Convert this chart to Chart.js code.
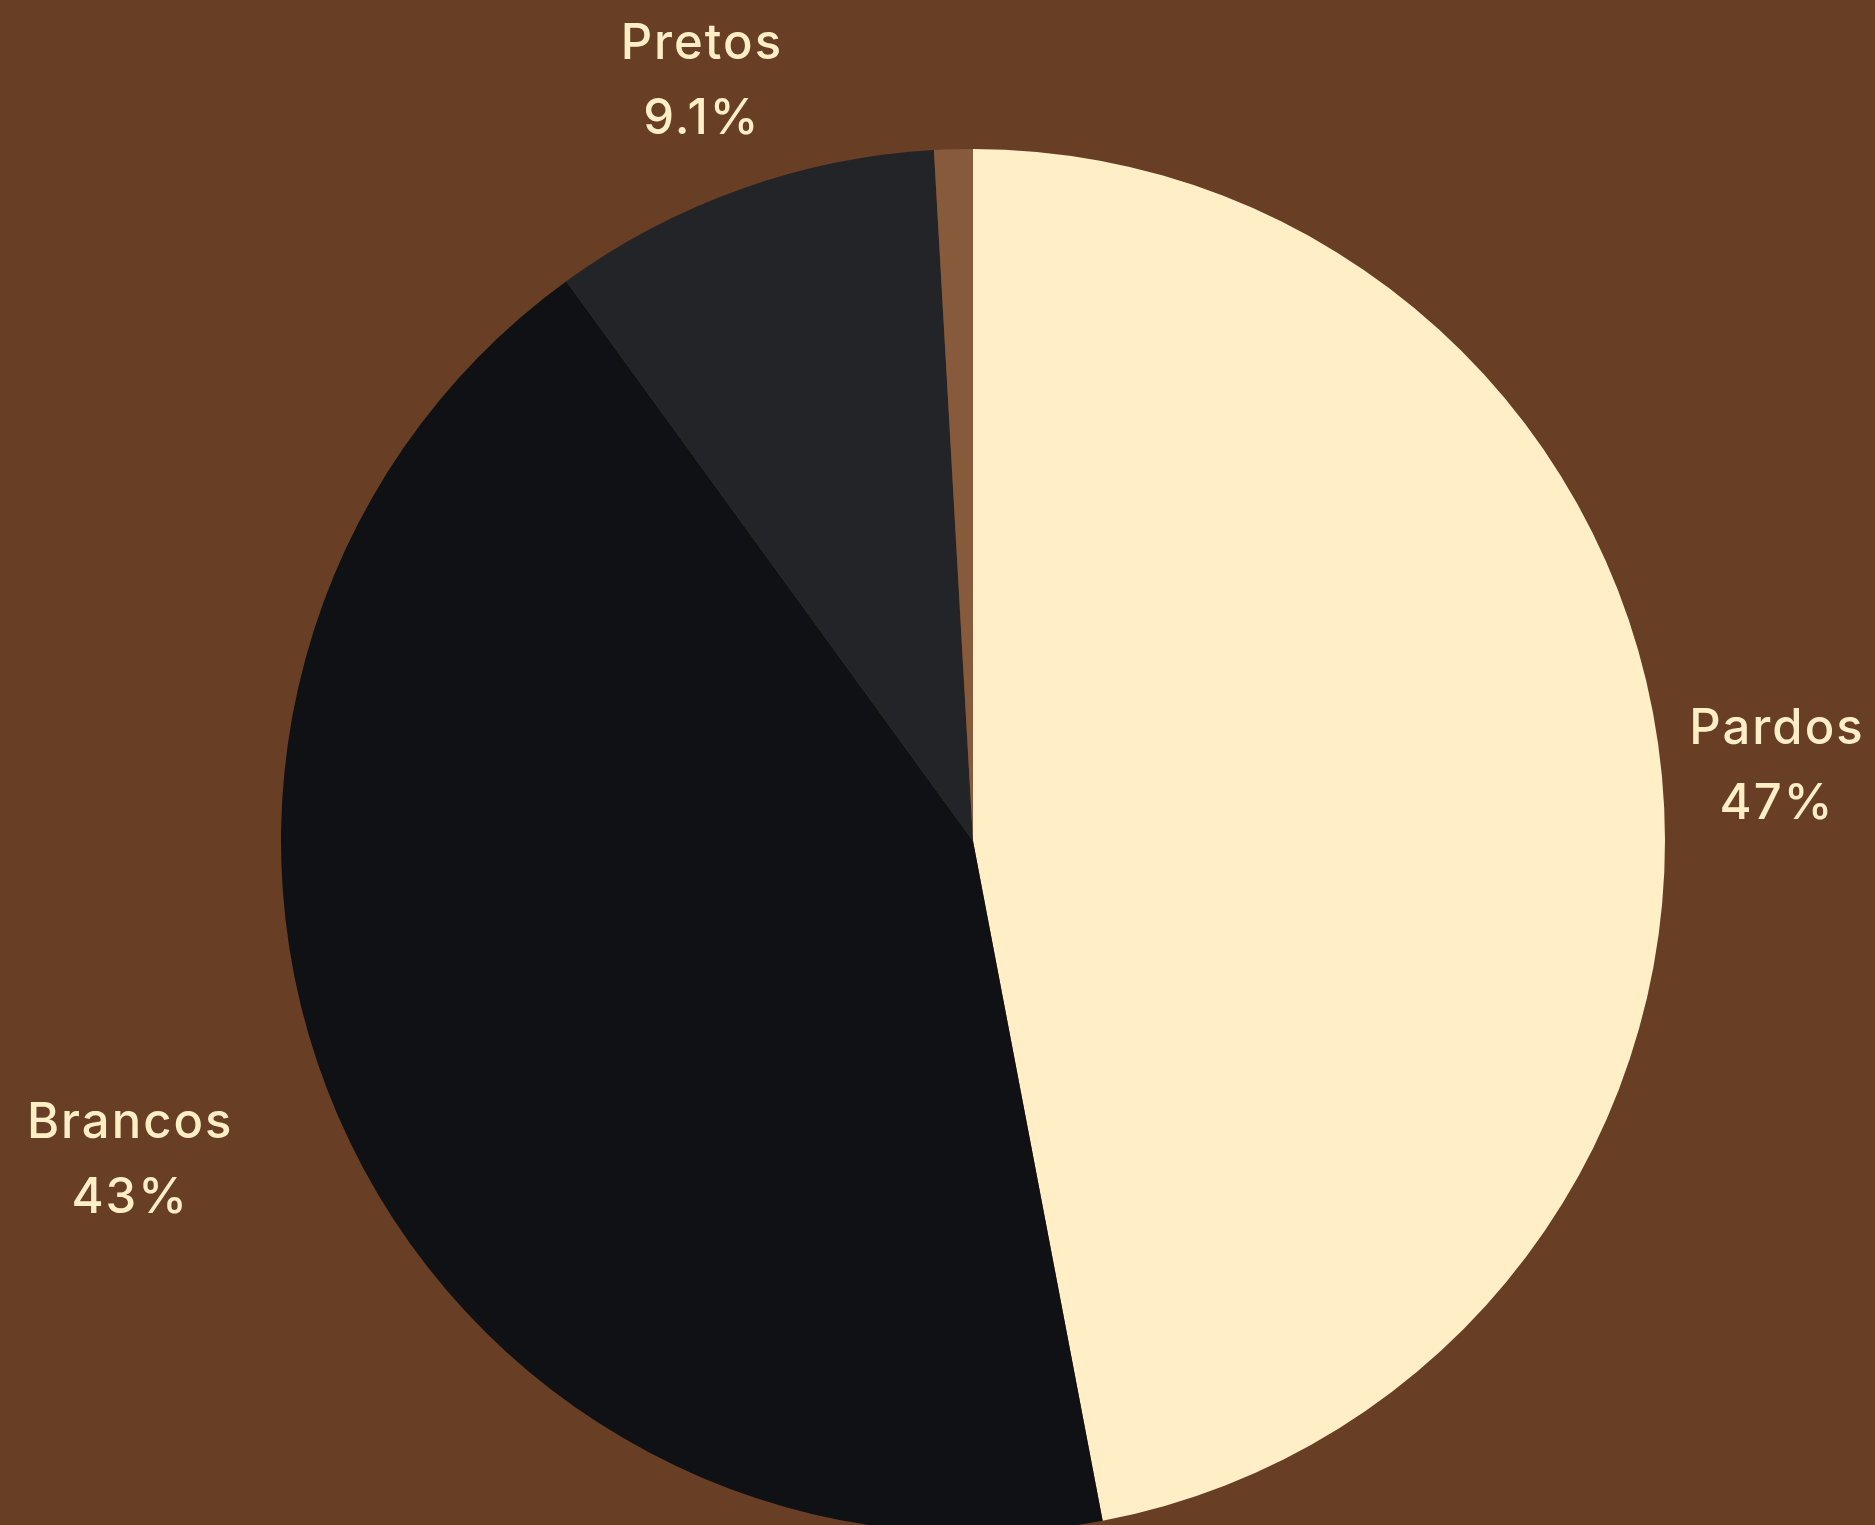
<!DOCTYPE html>
<html>
<head>
<meta charset="utf-8">
<script src="https://cdn.jsdelivr.net/npm/chart.js@4/dist/chart.umd.min.js"></script>
<style>
  html, body { margin: 0; padding: 0; background: #683f25; overflow: hidden; }
  canvas { display: block; }
</style>
</head>
<body>
<canvas id="chart" width="1875" height="1560"></canvas>
<script>
// share of population by group (%)
const groups = ['Pardos', 'Brancos', 'Pretos', 'Amarelos e Indígenas'];
const shares = [47.0, 43.0, 9.1, 0.9];
const sliceColors = ['#ffeec6', '#101114', '#232428', '#865a3b'];

const LABEL_COLOR = '#ffeec6';
const FONT = '500 49px Inter, "Noto Sans", sans-serif';
const LINE_GAP = 75;

// radial distance (x radius) and angle nudge (deg) for each outside label
const labelDist = [1.167, 1.302, 1.167, 1.167];
const labelTurn = [0, 2.7, 0, 0];

const fmt = function (v) {
    return Number(v.toPrecision(2)) + '%';
};

const outsideLabels = {
    id: 'outsideLabels',
    afterDatasetsDraw(chart) {
        const ctx = chart.ctx;
        const meta = chart.getDatasetMeta(0);
        const total = shares.reduce((a, b) => a + b, 0);
        ctx.save();
        ctx.font = FONT;
        ctx.letterSpacing = '2px';
        ctx.fillStyle = LABEL_COLOR;
        ctx.textAlign = 'center';
        ctx.textBaseline = 'alphabetic';
        meta.data.forEach((arc, i) => {
            const pct = shares[i] / total * 100;
            if (pct < 2) return;
            const mid = (arc.startAngle + arc.endAngle) / 2 + labelTurn[i] * Math.PI / 180;
            const r = arc.outerRadius * labelDist[i];
            const cx = arc.x + Math.cos(mid) * r;
            const cy = arc.y + Math.sin(mid) * r;
            ctx.fillText(groups[i], cx, cy - LINE_GAP / 2 + 16);
            ctx.fillText(fmt(pct), cx, cy + LINE_GAP / 2 + 16);
        });
        ctx.restore();
    }
};

const ctx = document.getElementById('chart').getContext('2d');
const chart = new Chart(ctx, {
    type: 'pie',
    data: {
        labels: groups,
        datasets: [{
            data: shares,
            backgroundColor: sliceColors,
            borderWidth: 0,
            hoverOffset: 0
        }]
    },
    options: {
        responsive: false,
        animation: false,
        devicePixelRatio: 1,
        layout: { padding: { left: 71, right: 0, top: 149, bottom: 27 } },
        plugins: {
            legend: { display: false },
            tooltip: { enabled: false }
        }
    },
    plugins: [outsideLabels]
});
</script>
</body>
</html>
